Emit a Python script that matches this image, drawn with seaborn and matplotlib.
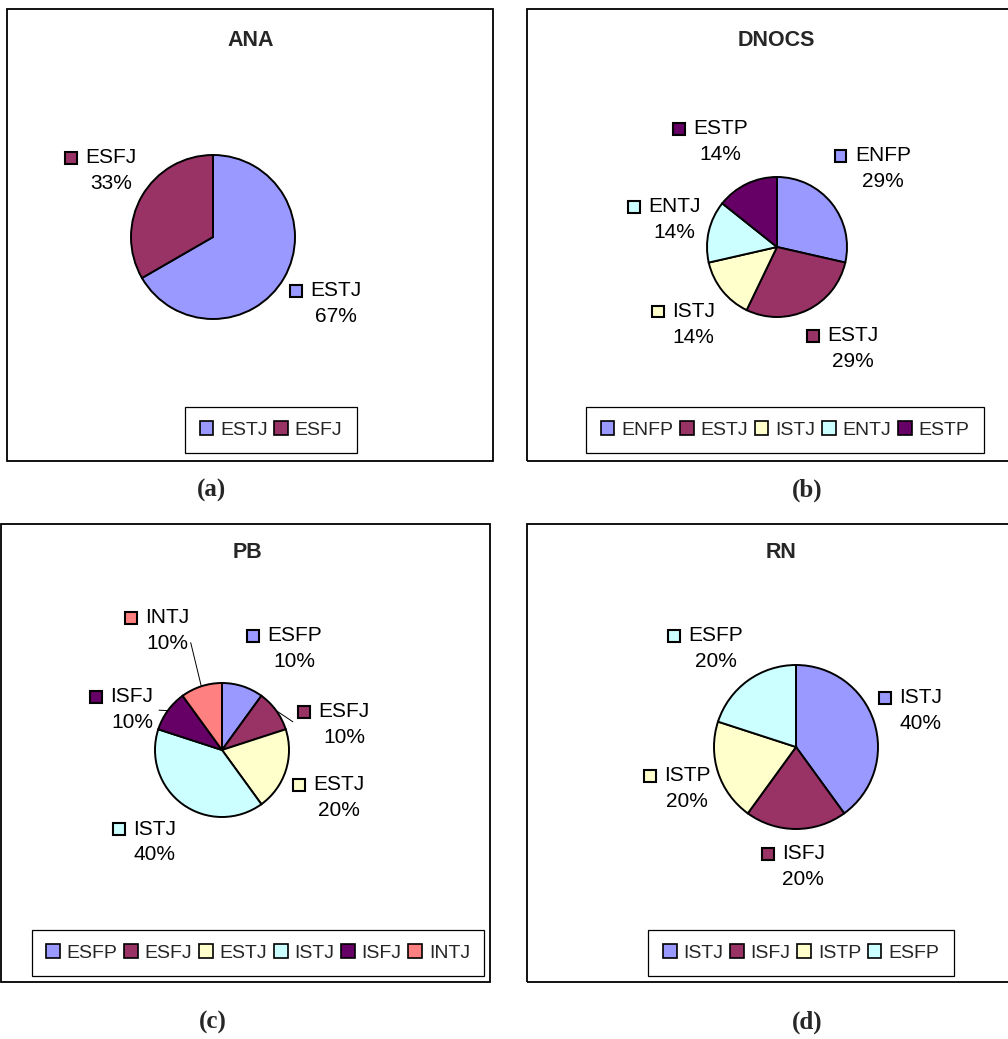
import numpy as np
import matplotlib
matplotlib.use("Agg")
import matplotlib.pyplot as plt
import matplotlib.patches as mpatches
from matplotlib.offsetbox import AnnotationBbox, HPacker, VPacker, TextArea, DrawingArea
import seaborn as sns

# dados (contagens por tipo psicologico)
ana_tipos = ["ESTJ", "ESFJ"]
ana_contagem = [2, 1]

dnocs_tipos = ["ENFP", "ESTJ", "ISTJ", "ENTJ", "ESTP"]
dnocs_contagem = [2, 2, 1, 1, 1]

pb_tipos = ["ESFP", "ESFJ", "ESTJ", "ISTJ", "ISFJ", "INTJ"]
pb_contagem = [1, 1, 2, 4, 1, 1]

rn_tipos = ["ISTJ", "ISFJ", "ISTP", "ESFP"]
rn_contagem = [2, 1, 1, 1]

titulos = ["ANA", "DNOCS", "PB", "RN"]
legendas = ["(a)", "(b)", "(c)", "(d)"]

sns.set_theme(style="white")
plt.rcParams['font.family'] = ['Liberation Sans', 'DejaVu Sans']
cores = sns.color_palette(["#9999FF", "#993366", "#FFFFCC", "#CCFFFF", "#660066", "#FF8080"])

W, H = 1008, 1039
fig = plt.figure(figsize=(W / 100, H / 100), dpi=100)
fig.patch.set_facecolor("white")


def fx(x):
    return x / W


def fy(y):
    return 1 - y / H


# layout em pixels: caixa, titulo, centro/raio da pizza, legenda, legenda (a)...
# ajuste = deslocamento extra do rotulo (dx, dy em px) e ponto de saida da linha guia
paineis = [
    dict(tipos=ana_tipos, cont=ana_contagem, caixa=(7, 9, 493, 461), titulo=(251, 40),
         centro=(213, 237), raio=82, gap=6, leg=(271, 430), cap=(211, 490), ajuste={}),
    dict(tipos=dnocs_tipos, cont=dnocs_contagem, caixa=(527, 9, 1012, 461), titulo=(776, 40),
         centro=(777, 247), raio=70, gap=8, leg=(785, 430), cap=(807, 490),
         ajuste={"ENFP": (-4, -7, None), "ESTJ": (0, 9, None), "ISTJ": (-1, 6, None),
                 "ESTP": (0, -13, None)}),
    dict(tipos=pb_tipos, cont=pb_contagem, caixa=(0.5, 524, 490, 982), titulo=(247, 553),
         centro=(222, 750), raio=67, gap=14, leg=(258, 953), cap=(213, 1022),
         ajuste={"ESFP": (14, -2, None), "ESFJ": (10, 45, (0, 0.5)), "ESTJ": (-7, 9, None),
                 "ISTJ": (2, 4, None), "ISFJ": (-3, 30, (1, 0.5)), "INTJ": (-20, -20, (1, 0.35))}),
    dict(tipos=rn_tipos, cont=rn_contagem, caixa=(527, 524, 1012, 982), titulo=(781, 553),
         centro=(796, 747), raio=82, gap=8, leg=(801, 953), cap=(807, 1022),
         ajuste={"ISTJ": (-3, 5, None), "ISFJ": (-3, 7, None), "ESFP": (0, -3, None)}),
]


def rotulo(nome, pct, cor):
    da = DrawingArea(10, 16, 0, 0)
    da.add_artist(mpatches.Rectangle((0.4, 4.6), 8.6, 8.6, facecolor=cor, edgecolor="black", lw=1.5))
    t1 = TextArea(nome, textprops=dict(fontsize=15, color="black"))
    t2 = TextArea(pct, textprops=dict(fontsize=15, color="black"))
    col = VPacker(children=[t1, t2], align="center", pad=0, sep=5)
    return HPacker(children=[da, col], align="top", pad=0, sep=5)


for p, titulo, cap in zip(paineis, titulos, legendas):
    x0, y0, x1, y1 = p["caixa"]
    fig.add_artist(mpatches.Rectangle((fx(x0), fy(y1)), fx(x1 - x0), (y1 - y0) / H,
                                      transform=fig.transFigure, fill=False,
                                      edgecolor="black", lw=1.3))
    fig.text(fx(p["titulo"][0]), fy(p["titulo"][1]), titulo, ha="center", va="center",
             fontsize=15.5, fontweight="bold")
    fig.text(fx(p["cap"][0]), fy(p["cap"][1]), cap, ha="center", va="center",
             fontsize=18, fontweight="bold", family="Liberation Serif")

    cx, cy = p["centro"]
    r = p["raio"]
    L = 1.1
    lado = 2 * L * r
    ax = fig.add_axes([fx(cx - lado / 2), fy(cy + lado / 2), lado / W, lado / H])

    cols = cores[:len(p["tipos"])]
    wedges, _ = ax.pie(p["cont"], colors=cols, startangle=90, counterclock=False, radius=1,
                       wedgeprops=dict(edgecolor="black", linewidth=1.4))
    # pie() redefine os limites, entao ajusta depois
    ax.set_xlim(-L, L)
    ax.set_ylim(-L, L)
    ax.set_aspect("equal")
    ax.axis("off")

    total = sum(p["cont"])
    for w, nome, c, cor in zip(wedges, p["tipos"], p["cont"], cols):
        ang = np.deg2rad((w.theta1 + w.theta2) / 2)
        ca, sa = np.cos(ang), np.sin(ang)
        d = 1 + p["gap"] / r
        bx = 0.5 - 0.5 * np.clip(2 * ca, -1, 1)
        by = 0.5 - 0.5 * np.clip(2 * sa, -1, 1)
        ddx, ddy, rel = p["ajuste"].get(nome, (0, 0, None))
        pos = (d * ca + ddx / r, d * sa - ddy / r)
        setas = None
        if rel is not None:
            setas = dict(arrowstyle="-", color="black", lw=0.7, relpos=rel,
                         patchA=None, shrinkA=4, shrinkB=0)
        ab = AnnotationBbox(rotulo(nome, f"{round(100 * c / total)}%", cor),
                            xy=(ca, sa), xybox=pos, xycoords="data", boxcoords="data",
                            box_alignment=(bx, by), frameon=False, pad=0,
                            annotation_clip=False, arrowprops=setas)
        ax.add_artist(ab)

    alcas = [mpatches.Patch(facecolor=cor, edgecolor="black", linewidth=1.2) for cor in cols]
    lg = fig.legend(alcas, p["tipos"], loc="center", bbox_to_anchor=(fx(p["leg"][0]), fy(p["leg"][1])),
                    ncol=len(alcas), fontsize=14, handlelength=0.7, handleheight=0.7,
                    handletextpad=0.35, columnspacing=0.35, borderpad=0.75, fancybox=False,
                    edgecolor="black", framealpha=1)
    lg.get_frame().set_linewidth(0.9)

fig.savefig("out.png", dpi=100, facecolor="white")
